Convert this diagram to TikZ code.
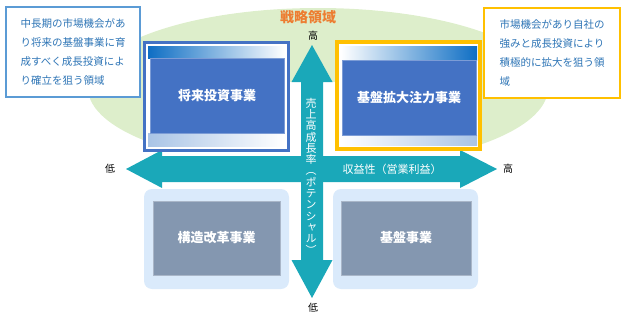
\documentclass[tikz,border=0pt]{standalone}
\usepackage{fontspec}
\setmainfont{Noto Sans CJK JP}
\usepackage{tikz}
\usepackage{xcolor}
\usetikzlibrary{positioning}

\definecolor{axisteal}{HTML}{1AA8B9}
\definecolor{zonegreen}{HTML}{DDEECB}
\definecolor{bizblue}{HTML}{4472C4}
\definecolor{bizgray}{HTML}{8497B0}
\definecolor{basebg}{HTML}{DAEAFB}
\definecolor{zoneorange}{HTML}{ED7D31}
\definecolor{frameyellow}{HTML}{FFC000}
\definecolor{memoblue}{HTML}{2E75B6}
\definecolor{memoline}{HTML}{5B9BD5}
\definecolor{paneldark}{HTML}{0E6EC4}
\definecolor{panelmid}{HTML}{9CBDE3}
\definecolor{panellight}{HTML}{A9C4E6}

\begin{document}
\begin{tikzpicture}[x=1pt, y=-1pt,
    memo/.style={draw, rectangle, fill=white, minimum width=134pt, minimum height=90pt, align=left, text=memoblue, font=\fontsize{10.5}{18.7}\selectfont},
    frame/.style={draw, rectangle, fill=white, minimum width=144pt, minimum height=108pt},
    bizbox/.style={draw=#1!70!white, rectangle, fill=#1, text=white, minimum width=134pt, minimum height=75pt, font=\bfseries\fontsize{13}{13}\selectfont},
    basebox/.style={rectangle, rounded corners=8pt, fill=basebg, minimum width=145pt, minimum height=100pt},
    tick/.style={text=black, font=\fontsize{10}{10}\selectfont}
  ]
    \useasboundingbox (0,0) rectangle (627,319);

    % Zone
    \fill[zonegreen] (318,88) ellipse [x radius=230, y radius=80];
    \node[text=zoneorange, font=\bfseries\fontsize{14}{14}\selectfont] (zone) at (308,17) {戦略領域};
    \fill[white] (162,82) rectangle (460,182);

    % Axes
    \fill[axisteal] (312,45) -- (332.5,82) -- (323,82) -- (323,260) -- (332.5,260) -- (312,298)
        -- (291.5,260) -- (301,260) -- (301,82) -- (291.5,82) -- cycle;
    \fill[axisteal] (126,169) -- (162,150) -- (162,156) -- (460,156) -- (460,150) -- (497,169)
        -- (460,188) -- (460,182) -- (162,182) -- (162,188) -- cycle;
    \node[text=white, align=center, font=\fontsize{11}{11.3}\selectfont\addfontfeature{RawFeature=+vert}] (growth) at (311,176)
        {売\\上\\高\\成\\長\\率\\（\\ポ\\テ\\ン\\シ\\ャ\\ル\\）};
    \node[text=white, font=\fontsize{11}{11}\selectfont] (profit) at (392,169) {収益性（営業利益）};
    \node[tick] (vhigh) at (313,36) {高};
    \node[tick] (vlow) at (313,308) {低};
    \node[tick] (hlow) at (110,169) {低};
    \node[tick] (hhigh) at (508,169) {高};

    % Notes
    \node[memo, draw=memoline, line width=1.5pt] (notel) at (73,52) {中長期の市場機会があ\\り将来の基盤事業に育\\成すべく成長投資によ\\り確立を狙う領域};
    \node[memo, draw=frameyellow, line width=1.8pt, minimum width=136pt] (noter) at (552,53) {市場機会があり自社の\\強みと成長投資により\\積極的に拡大を狙う領\\域};

    % Boxes
    \node[frame, draw=bizblue, line width=3pt] (framel) at (216,96) {};
    \shade[left color=paneldark, middle color=panelmid, right color=white] (148,46) rectangle (285,58);
    \shade[left color=panellight, right color=white] (148,133) rectangle (285,146);
    \node[bizbox=bizblue] (future) at (217,95.5) {将来投資事業};
    \node[frame, draw=frameyellow, line width=4pt, minimum width=143pt, minimum height=107pt] (framer) at (408.5,95.5) {};
    \shade[left color=white, middle color=panelmid, right color=paneldark] (341,46) rectangle (477,60);
    \shade[left color=white, right color=panellight] (341,135) rectangle (477,145);
    \node[bizbox=bizblue] (expand) at (409,97.5) {基盤拡大注力事業};
    \node[basebox] (reformbg) at (216.5,239) {};
    \node[bizbox=bizgray, minimum width=127pt, minimum height=74pt] (reform) at (216.5,238) {構造改革事業};
    \node[basebox] (basebg) at (405.5,239) {};
    \node[bizbox=bizgray, minimum width=130pt, minimum height=74pt] (base) at (406,238) {基盤事業};
\end{tikzpicture}
\end{document}
